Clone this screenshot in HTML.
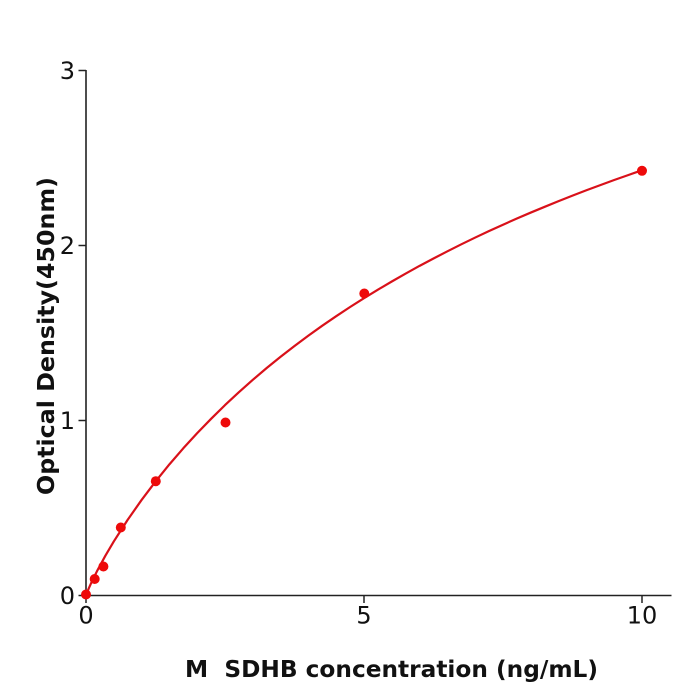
<!DOCTYPE html>
<html>
<head>
<meta charset="utf-8">
<style>
  html, body { margin: 0; padding: 0; background: #ffffff; }
  svg { display: block; }
  text { font-family: "DejaVu Sans", "Liberation Sans", sans-serif; fill: #111; white-space: pre; }
</style>
</head>
<body>
<svg width="700" height="700" viewBox="0 0 700 700" xmlns="http://www.w3.org/2000/svg" xml:space="preserve">
  <rect x="0" y="0" width="700" height="700" fill="#ffffff"/>

  <!-- axes -->
  <line x1="86" y1="70" x2="86" y2="596.2" stroke="#222" stroke-width="1.6"/>
  <line x1="85.2" y1="595.5" x2="671.5" y2="595.5" stroke="#222" stroke-width="1.6"/>

  <!-- y ticks -->
  <g stroke="#222" stroke-width="1.5">
    <line x1="78.5" y1="70.5" x2="86" y2="70.5"/>
    <line x1="78.5" y1="245.5" x2="86" y2="245.5"/>
    <line x1="78.5" y1="420.5" x2="86" y2="420.5"/>
    <line x1="78.5" y1="595.5" x2="86" y2="595.5"/>
    <!-- x ticks -->
    <line x1="86" y1="595.5" x2="86" y2="603"/>
    <line x1="364" y1="595.5" x2="364" y2="603"/>
    <line x1="642" y1="595.5" x2="642" y2="603"/>
  </g>

  <!-- y tick labels -->
  <g font-size="24" text-anchor="end">
    <text x="75" y="79">3</text>
    <text x="75" y="254">2</text>
    <text x="75" y="429">1</text>
    <text x="75" y="604">0</text>
  </g>
  <!-- x tick labels -->
  <g font-size="24" text-anchor="middle">
    <text x="86" y="623.5">0</text>
    <text x="364" y="623.5">5</text>
    <text x="642" y="623.5">10</text>
  </g>

  <!-- axis titles -->
  <text x="391.5" y="677" font-size="23.5" font-weight="bold" text-anchor="middle" textLength="413" lengthAdjust="spacingAndGlyphs">M&#160;&#160;SDHB concentration (ng/mL)</text>
  <text transform="translate(54,336) rotate(-90)" x="0" y="0" font-size="23.5" font-weight="bold" text-anchor="middle" textLength="318" lengthAdjust="spacingAndGlyphs">Optical Density(450nm)</text>

  <!-- fitted curve -->
  <path d="M86,595.5 L88.78,588.3 L91.56,582.15 L97.12,570.93 L105.46,555.58 L113.8,541.46 L127.7,519.78 L141.6,499.94 L155.5,481.6 L169.4,464.37 L183.3,448.3 L197.2,433.08 L211.1,418.8 L225,405.1 L238.9,392.2 L252.8,379.81 L266.7,368.0 L280.6,356.77 L294.5,346.0 L308.4,335.66 L322.3,325.7 L336.2,316.2 L350.1,307.0 L364,298.19 L377.9,289.7 L391.8,281.5 L405.7,273.6 L419.6,265.85 L433.5,258.5 L447.4,251.3 L461.3,244.3 L475.2,237.57 L489.1,231.0 L503,224.7 L516.9,218.5 L530.8,212.57 L544.7,206.8 L558.6,201.1 L572.5,195.6 L586.4,190.27 L600.3,185.1 L614.2,180.0 L628.1,175.1 L642,170.25" fill="none" stroke="#d9111a" stroke-width="2.2" stroke-linejoin="round" stroke-linecap="round"/>

  <!-- data points -->
  <g fill="#ee0a0a">
    <circle cx="86" cy="594.5" r="5"/>
    <circle cx="94.7" cy="579" r="5"/>
    <circle cx="103.4" cy="566.5" r="5"/>
    <circle cx="120.8" cy="527.5" r="5"/>
    <circle cx="155.8" cy="481.2" r="5"/>
    <circle cx="225.5" cy="422.5" r="5"/>
    <circle cx="364.3" cy="293.5" r="5"/>
    <circle cx="642" cy="170.8" r="5"/>
  </g>
</svg>
</body>
</html>
